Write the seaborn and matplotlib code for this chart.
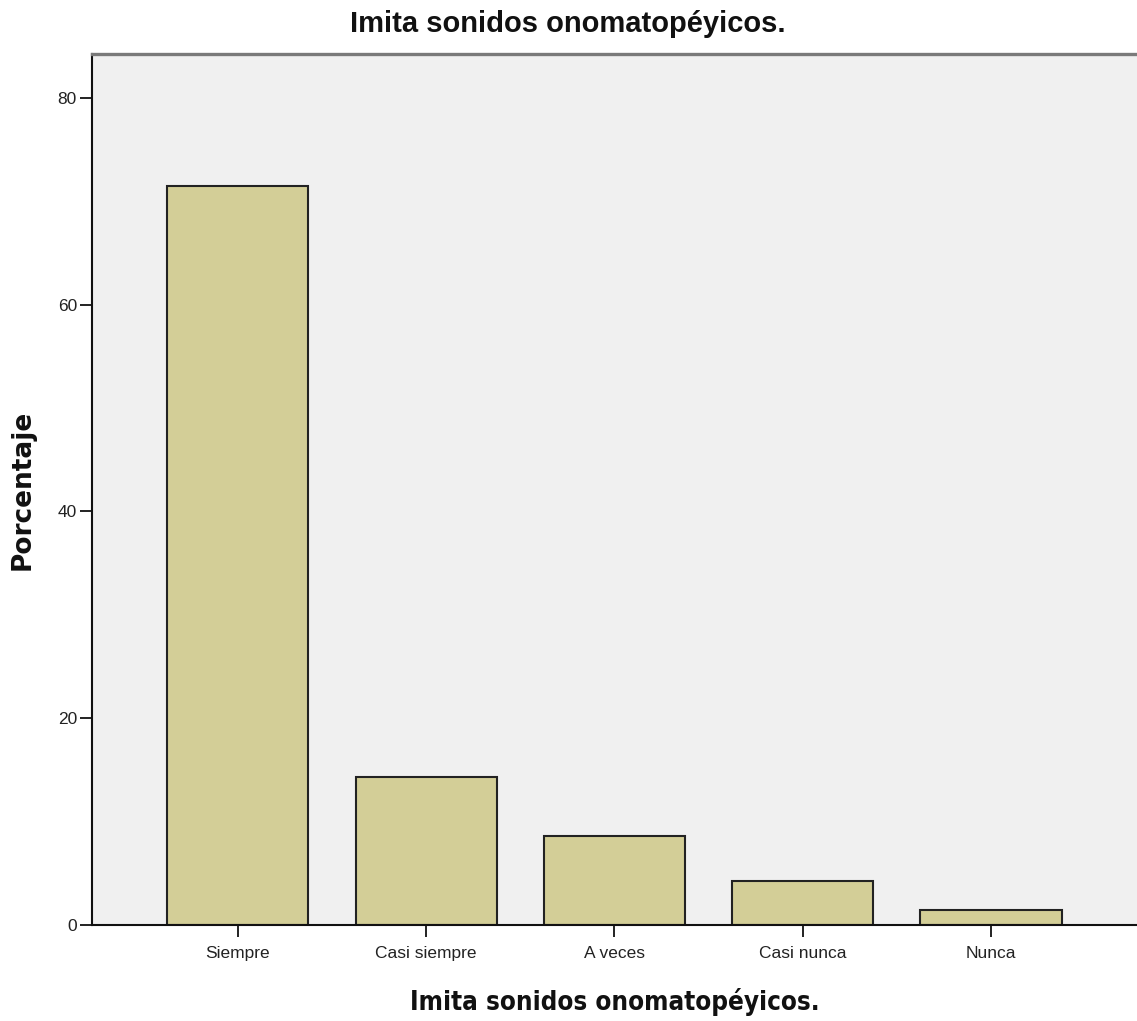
import matplotlib
matplotlib.use("Agg")
import matplotlib.pyplot as plt
from matplotlib import font_manager
import seaborn as sns
import pandas as pd

categories = ["Siempre", "Casi siempre", "A veces", "Casi nunca", "Nunca"]
percentages = [71.43, 14.29, 8.57, 4.29, 1.43]
yticks = [0, 20, 40, 60, 80]
title_text = "Imita sonidos onomatopéyicos."
xlabel_text = "Imita sonidos onomatopéyicos."
ylabel_text = "Porcentaje"

sns.set_theme(style="white")

entries = font_manager.fontManager.ttflist
names = {f.name for f in entries}
narrow = "Liberation Sans Narrow" in names
has_cond = any(f.name == "DejaVu Sans" and str(f.stretch) in ("condensed", "semi-condensed") for f in entries)

tick_family = ["Liberation Sans Narrow", "DejaVu Sans"] if narrow else ["Liberation Sans", "DejaVu Sans"]
tick_size = 14.4 if narrow else 12.5

df = pd.DataFrame({"cat": categories, "pct": percentages})

fig = plt.figure(figsize=(11.37, 10.21), dpi=100)
ax = fig.add_axes([92/1137, 96/1021, 1045/1137, 871/1021])
ax.set_facecolor("#F0F0F0")

sns.barplot(data=df, x="cat", y="pct", order=categories, color="#D3CE97",
            saturation=1, width=0.75, edgecolor="#222222", linewidth=1.5, ax=ax)

ax.set_xlim(-0.7745, 4.775)
ax.set_ylim(0, 84.24)
ax.set_yticks(yticks)
ax.set_yticklabels([str(v) for v in yticks])

for lab in ax.get_xticklabels() + ax.get_yticklabels():
    lab.set_family(tick_family)
    lab.set_fontsize(tick_size)
    lab.set_color("#222222")

ax.tick_params(axis="x", which="major", direction="out", length=8.6, width=1.4,
               color="#222222", pad=6.5, bottom=True)
ax.tick_params(axis="y", which="major", direction="out", length=8.6, width=1.4,
               color="#222222", pad=2.2, left=True)

for side in ["left", "bottom"]:
    ax.spines[side].set_color("#111111")
    ax.spines[side].set_linewidth(1.5)
ax.spines["top"].set_color("#7A7A7A")
ax.spines["top"].set_linewidth(2.4)
ax.spines["right"].set_visible(False)

# x label
if has_cond:
    ax.set_xlabel(xlabel_text, family="DejaVu Sans", fontstretch="condensed",
                  fontweight="bold", fontsize=18.6, color="#111111")
else:
    ax.set_xlabel(xlabel_text, family="DejaVu Sans", fontweight="bold",
                  fontsize=15.8, color="#111111")
ax.xaxis.set_label_coords(0.5, (925 - 1010) / 871)
ax.xaxis.label.set_verticalalignment("baseline")

ax.set_ylabel(ylabel_text, family="DejaVu Sans", fontweight="bold",
              fontsize=19, color="#111111")
ax.yaxis.set_label_coords((23 - 92) / 1045, 0.5)
ax.yaxis.label.set_verticalalignment("center")

fig.text(568/1137, 1 - 32/1021, title_text, ha="center", va="baseline",
         family=["Liberation Sans", "DejaVu Sans"], fontweight="bold",
         fontsize=21, color="#111111")

fig.savefig("out.png", dpi=100, facecolor="white")
